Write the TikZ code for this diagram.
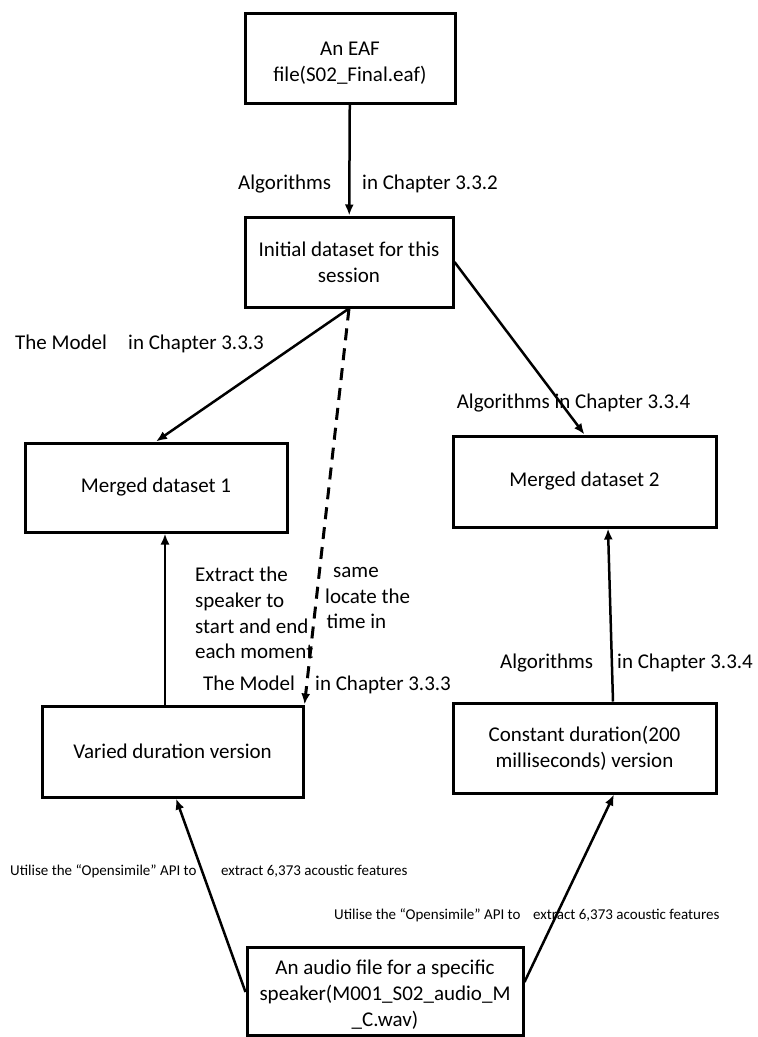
\documentclass[tikz,border=0pt]{standalone}
\usepackage{fontspec}
\setmainfont{Carlito}
\usetikzlibrary{arrows.meta,calc}
\begin{document}
\begin{tikzpicture}[x=1pt,y=-1pt,
  box/.style={draw,line width=3pt,inner sep=0pt,align=center,font=\fontsize{21}{26}\selectfont},
  boxtext/.style={inner sep=0pt,align=center,font=\fontsize{21}{26}\selectfont},
  lbl/.style={inner sep=0pt,align=left,font=\fontsize{21}{25.7}\selectfont},
  small/.style={inner sep=0pt,font=\fontsize{15}{17}\selectfont},
  arr/.style={line width=2.5pt,-{Latex[length=11pt,width=9pt]}},
  dasharr/.style={line width=3pt,dash pattern=on 12pt off 8pt,-{Latex[length=11pt,width=9pt]}},
]
\useasboundingbox[fill=white] (0,0) rectangle (758,1037);

% boxes
\node[box,minimum width=210pt,minimum height=90pt] (eaf) at (350,58) {};
\node[boxtext] (eaftxt) at (350,63) {An EAF\\file(S02\_Final.eaf)};
\node[box,minimum width=208pt,minimum height=90pt] (ini) at (349,262) {Initial dataset for this\\session};
\node[box,minimum width=262pt,minimum height=89pt] (m1) at (156,487.5) {Merged dataset 1};
\node[box,minimum width=263pt,minimum height=91pt] (m2) at (584.5,481.5) {Merged dataset 2};
\node[box,minimum width=261pt,minimum height=91pt] (var) at (172.5,751.5) {Varied duration version};
\node[box,minimum width=263pt,minimum height=90pt] (con) at (584.5,748) {Constant duration(200\\milliseconds) version};
\node[box,minimum width=276pt,minimum height=88pt] (aud) at (385,991) {};
\node[boxtext] (audtxt) at (385,995) {An audio file for a specific\\speaker(M001\_S02\_audio\_M\\\_C.wav)};

% connectors
\draw[arr] (eaf) -- (ini);
\draw[arr] (ini.south) -- (m1.north);
\draw[arr] (ini.east) -- (m2.north);
\draw[dasharr] (ini.south) -- (var.north east);
\draw[arr] ([xshift=-7.5pt]var.north) -- ([xshift=9pt]m1.south);
\draw[arr] ([xshift=28.5pt]con.north) -- ([xshift=23.5pt]m2.south);
\draw[arr] ([yshift=-1pt]aud.west) -- ([xshift=3.5pt]var.south);
\draw[arr] ([yshift=9pt]aud.east) -- ([xshift=29.5pt]con.south);

% labels
\node[lbl,anchor=base west] (alg1) at (238,189) {Algorithms};
\node[lbl,anchor=base west] (ch1) at (362,189) {in Chapter 3.3.2};
\node[lbl,anchor=base west] (mod1) at (15,349) {The Model};
\node[lbl,anchor=base west] (ch2) at (128,349) {in Chapter 3.3.3};
\node[lbl,anchor=base] (alg2) at (573.5,408) {Algorithms in Chapter 3.3.4};
\node[lbl,anchor=north west] (ext) at (195,567) {Extract the\\speaker to\\start and end\\each moment};
\node[lbl,anchor=north west] (loc) at (325,567) {\hspace*{8pt}same\\locate the\\\hspace*{1.5pt}time in};
\node[lbl,anchor=base west] (mod2) at (203,690) {The Model};
\node[lbl,anchor=base west] (ch3) at (315,690) {in Chapter 3.3.3};
\node[lbl,anchor=base west] (alg3) at (500,668) {Algorithms};
\node[lbl,anchor=base west] (ch4) at (617,668) {in Chapter 3.3.4};
\node[small,anchor=base west] (os1) at (10,875) {Utilise the “Opensimile” API to};
\node[small,anchor=base west] (ft1) at (221,875) {extract 6,373 acoustic features};
\node[small,anchor=base west] (os2) at (334,919) {Utilise the “Opensimile” API to};
\node[small,anchor=base west] (ft2) at (533,919) {extract 6,373 acoustic features};
\end{tikzpicture}
\end{document}
